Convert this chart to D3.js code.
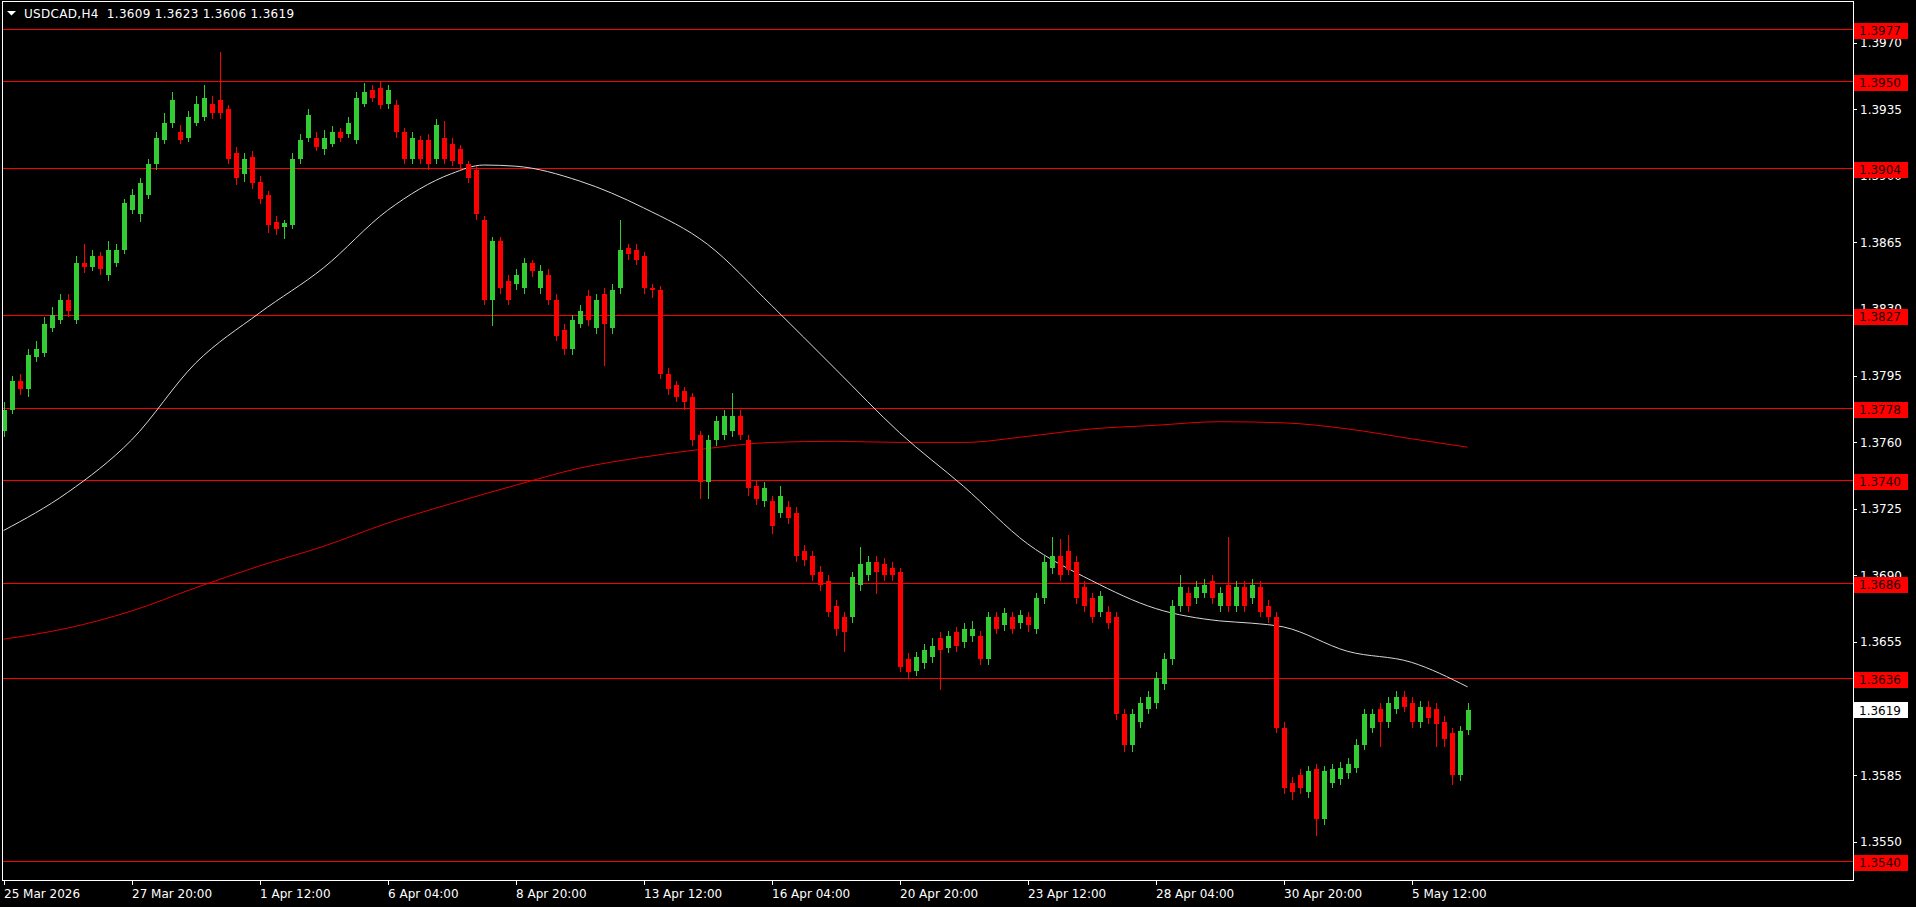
<!DOCTYPE html>
<html><head><meta charset="utf-8">
<script src="https://cdn.jsdelivr.net/npm/d3@7"></script>
<style>html,body{margin:0;padding:0;background:#000;overflow:hidden}svg{display:block}</style>
</head><body><svg id="c" width="1916" height="907"></svg>
<script>
const chartTitle = "USDCAD,H4  1.3609 1.3623 1.3606 1.3619";

const opens = [
1.3766,1.3777,1.3792,1.3788,1.3805,1.3807,1.3820,1.3824,1.3835,1.3824,
1.3854,1.3852,1.3858,1.3848,1.3854,1.3861,1.3882,1.3880,1.3890,1.3906,
1.3919,1.3928,1.3923,1.3920,1.3928,1.3931,1.3938,1.3940,1.3935,1.3912,
1.3901,1.3910,1.3897,1.3890,1.3876,1.3873,1.3874,1.3909,1.3920,1.3920,
1.3914,1.3917,1.3923,1.3922,1.3919,1.3938,1.3945,1.3946,1.3938,1.3937,
1.3923,1.3909,1.3919,1.3919,1.3909,1.3920,1.3917,1.3914,1.3906,1.3903,
1.3877,1.3835,1.3866,1.3845,1.3843,1.3841,1.3854,1.3841,1.3848,1.3835,
1.3819,1.3809,1.3822,1.3837,1.3820,1.3838,1.3820,1.3841,1.3862,1.3861,
1.3858,1.3841,1.3840,1.3796,1.3790,1.3787,1.3784,1.3764,1.3739,1.3761,
1.3764,1.3766,1.3774,1.3761,1.3737,1.3729,1.3729,1.3723,1.3726,1.3723,
1.3703,1.3700,1.3692,1.3687,1.3674,1.3668,1.3668,1.3685,1.3690,1.3697,
1.3696,1.3694,1.3692,1.3646,1.3640,1.3644,1.3647,1.3657,1.3652,1.3660,
1.3655,1.3658,1.3658,1.3646,1.3668,1.3664,1.3668,1.3665,1.3668,1.3662,
1.3678,1.3694,1.3700,1.3703,1.3697,1.3684,1.3678,1.3671,1.3671,1.3668,
1.3617,1.3601,1.3613,1.3620,1.3623,1.3633,1.3646,1.3674,1.3681,1.3678,
1.3681,1.3687,1.3674,1.3685,1.3674,1.3684,1.3678,1.3684,1.3674,1.3668,
1.3610,1.3581,1.3585,1.3576,1.3588,1.3562,1.3581,1.3583,1.3586,1.3589,
1.3601,1.3610,1.3620,1.3613,1.3620,1.3626,1.3623,1.3613,1.3621,1.3620,
1.3613,1.3607,1.3585,1.3609];
const highs = [
1.3781,1.3795,1.3796,1.3809,1.3813,1.3826,1.3831,1.3838,1.3838,1.3858,
1.3864,1.3861,1.3860,1.3866,1.3864,1.3888,1.3893,1.3899,1.3909,1.3923,
1.3933,1.3944,1.3927,1.3934,1.3942,1.3948,1.3942,1.3965,1.3937,1.3915,
1.3912,1.3913,1.3900,1.3892,1.3879,1.3877,1.3912,1.3922,1.3935,1.3923,
1.3924,1.3926,1.3925,1.3931,1.3944,1.3949,1.3948,1.3950,1.3948,1.3940,
1.3925,1.3923,1.3921,1.3922,1.3930,1.3929,1.3920,1.3916,1.3908,1.3905,
1.3879,1.3868,1.3868,1.3848,1.3851,1.3857,1.3856,1.3853,1.3851,1.3838,
1.3822,1.3827,1.3832,1.3840,1.3838,1.3841,1.3843,1.3877,1.3864,1.3864,
1.3860,1.3843,1.3842,1.3799,1.3792,1.3789,1.3786,1.3766,1.3764,1.3774,
1.3777,1.3786,1.3777,1.3764,1.3740,1.3739,1.3732,1.3737,1.3729,1.3726,
1.3706,1.3703,1.3695,1.3690,1.3677,1.3671,1.3692,1.3705,1.3700,1.3700,
1.3699,1.3697,1.3694,1.3649,1.3650,1.3654,1.3657,1.3660,1.3661,1.3663,
1.3665,1.3666,1.3661,1.3671,1.3671,1.3673,1.3671,1.3672,1.3671,1.3681,
1.3700,1.3710,1.3709,1.3711,1.3700,1.3687,1.3681,1.3682,1.3674,1.3671,
1.3620,1.3620,1.3626,1.3629,1.3639,1.3649,1.3677,1.3690,1.3684,1.3687,
1.3688,1.3690,1.3684,1.3710,1.3687,1.3687,1.3688,1.3687,1.3677,1.3671,
1.3613,1.3584,1.3588,1.3590,1.3591,1.3590,1.3591,1.3592,1.3594,1.3604,
1.3620,1.3620,1.3623,1.3626,1.3629,1.3629,1.3626,1.3624,1.3624,1.3623,
1.3616,1.3610,1.3611,1.3623];
const lows = [
1.3763,1.3775,1.3785,1.3784,1.3802,1.3805,1.3818,1.3822,1.3826,1.3822,
1.3849,1.3850,1.3848,1.3845,1.3852,1.3859,1.3880,1.3876,1.3888,1.3903,
1.3917,1.3925,1.3917,1.3918,1.3926,1.3929,1.3930,1.3930,1.3906,1.3895,
1.3897,1.3893,1.3885,1.3870,1.3869,1.3867,1.3872,1.3906,1.3918,1.3913,
1.3911,1.3915,1.3918,1.3920,1.3917,1.3936,1.3939,1.3935,1.3935,1.3920,
1.3906,1.3906,1.3906,1.3903,1.3906,1.3906,1.3905,1.3903,1.3896,1.3877,
1.3832,1.3821,1.3838,1.3832,1.3840,1.3838,1.3847,1.3838,1.3832,1.3813,
1.3806,1.3806,1.3820,1.3821,1.3817,1.3800,1.3817,1.3838,1.3856,1.3853,
1.3838,1.3836,1.3793,1.3785,1.3781,1.3777,1.3758,1.3730,1.3730,1.3758,
1.3761,1.3763,1.3761,1.3732,1.3727,1.3726,1.3712,1.3720,1.3717,1.3697,
1.3695,1.3687,1.3682,1.3668,1.3658,1.3650,1.3665,1.3682,1.3687,1.3680,
1.3687,1.3687,1.3639,1.3636,1.3637,1.3641,1.3644,1.3630,1.3649,1.3650,
1.3652,1.3655,1.3643,1.3643,1.3659,1.3661,1.3659,1.3662,1.3660,1.3659,
1.3675,1.3691,1.3687,1.3690,1.3675,1.3671,1.3665,1.3668,1.3662,1.3614,
1.3597,1.3597,1.3610,1.3617,1.3620,1.3630,1.3643,1.3671,1.3671,1.3675,
1.3678,1.3675,1.3671,1.3671,1.3671,1.3671,1.3675,1.3668,1.3665,1.3607,
1.3575,1.3572,1.3575,1.3573,1.3553,1.3559,1.3578,1.3580,1.3583,1.3586,
1.3598,1.3607,1.3600,1.3610,1.3617,1.3618,1.3610,1.3610,1.3612,1.3600,
1.3600,1.3580,1.3582,1.3606];
const closes = [
1.3777,1.3792,1.3788,1.3806,1.3809,1.3822,1.3827,1.3835,1.3829,1.3854,
1.3852,1.3858,1.3851,1.3861,1.3861,1.3886,1.3890,1.3896,1.3906,1.3920,
1.3928,1.3940,1.3919,1.3931,1.3938,1.3941,1.3933,1.3933,1.3909,1.3899,
1.3909,1.3896,1.3888,1.3874,1.3872,1.3875,1.3909,1.3919,1.3932,1.3915,
1.3920,1.3923,1.3920,1.3928,1.3941,1.3944,1.3941,1.3937,1.3945,1.3923,
1.3909,1.3920,1.3909,1.3906,1.3927,1.3909,1.3908,1.3906,1.3899,1.3880,
1.3835,1.3866,1.3841,1.3835,1.3848,1.3854,1.3850,1.3850,1.3835,1.3816,
1.3809,1.3824,1.3829,1.3824,1.3835,1.3822,1.3840,1.3861,1.3859,1.3856,
1.3841,1.3840,1.3796,1.3788,1.3784,1.3781,1.3761,1.3739,1.3761,1.3771,
1.3774,1.3774,1.3764,1.3736,1.3730,1.3736,1.3716,1.3732,1.3720,1.3700,
1.3698,1.3690,1.3685,1.3671,1.3662,1.3660,1.3689,1.3696,1.3697,1.3692,
1.3690,1.3690,1.3642,1.3639,1.3647,1.3651,1.3653,1.3651,1.3658,1.3653,
1.3662,1.3662,1.3646,1.3668,1.3662,1.3670,1.3662,1.3669,1.3664,1.3678,
1.3697,1.3700,1.3690,1.3693,1.3678,1.3674,1.3668,1.3679,1.3665,1.3617,
1.3601,1.3617,1.3623,1.3626,1.3636,1.3646,1.3674,1.3684,1.3674,1.3684,
1.3685,1.3678,1.3681,1.3674,1.3684,1.3674,1.3685,1.3671,1.3668,1.3610,
1.3578,1.3576,1.3578,1.3587,1.3562,1.3587,1.3588,1.3589,1.3591,1.3601,
1.3617,1.3617,1.3613,1.3623,1.3626,1.3621,1.3613,1.3621,1.3615,1.3612,
1.3604,1.3585,1.3608,1.3619];

// moving averages (bar index, price)
const maFastIndex  = [0,8,16,24,32,40,48,56,60,64,72,80,88,96,104,112,120,128,136,144,152,156,160,168,176,183];
const maFastValues = [1.37136,1.37336,1.37612,1.38016,1.38280,1.38517,1.38819,1.39012,1.39057,1.39051,1.38973,1.38832,1.38640,1.38319,1.37984,1.37650,1.37368,1.37066,1.36873,1.36726,1.36661,1.36649,1.36629,1.36501,1.36443,1.36314];
const maSlowIndex  = [0,8,16,24,32,40,48,56,64,72,80,88,96,104,112,120,128,136,144,152,160,168,176,183];
const maSlowValues = [1.36565,1.36623,1.36713,1.36835,1.36950,1.37053,1.37175,1.37278,1.37374,1.37464,1.37522,1.37567,1.37599,1.37605,1.37599,1.37599,1.37631,1.37670,1.37689,1.37708,1.37702,1.37670,1.37618,1.37574];

const xTickIndex  = [0,16,32,48,64,80,96,112,128,144,160,176];
const xTickLabels = ["25 Mar 2026","27 Mar 20:00","1 Apr 12:00","6 Apr 04:00","8 Apr 20:00","13 Apr 12:00","16 Apr 04:00","20 Apr 20:00","23 Apr 12:00","28 Apr 04:00","30 Apr 20:00","5 May 12:00"];
const yTickValues = [1.3970,1.3935,1.3900,1.3865,1.3830,1.3795,1.3760,1.3725,1.3690,1.3655,1.3620,1.3585,1.3550];
const levelLines  = [1.3977,1.3950,1.3904,1.3827,1.3778,1.3740,1.3686,1.3636,1.3540];
const currentPrice = 1.3619;
const priceRange = [1.35299, 1.39914];

const svg = d3.select("#c");
const W = 1916, H = 907;
const plot = {left: 3, right: 1853, top: 2, bottom: 880};
const FONT = "DejaVu Sans, sans-serif";

svg.append("rect").attr("width", W).attr("height", H).attr("fill", "#000");

const x = d3.scaleLinear().domain([0, 1]).range([3.6, 11.6]);
const y = d3.scaleLinear().domain(priceRange).range([plot.bottom, plot.top]);

svg.append("clipPath").attr("id", "pc").append("rect")
  .attr("x", plot.left).attr("y", plot.top).attr("width", plot.right - plot.left).attr("height", plot.bottom - plot.top);
const g = svg.append("g").attr("clip-path", "url(#pc)");

// level lines
g.selectAll("line.lvl").data(levelLines).join("line")
  .attr("x1", plot.left).attr("x2", plot.right)
  .attr("y1", d => Math.round(y(d)) + 0.5).attr("y2", d => Math.round(y(d)) + 0.5)
  .attr("stroke", "#ff0000").attr("stroke-width", 1).attr("shape-rendering", "crispEdges");

// moving averages
const lineGen = d3.line().x(d => x(d[0])).y(d => y(d[1])).curve(d3.curveMonotoneX);
g.append("path").datum(maSlowIndex.map((v, i) => [v, maSlowValues[i]]))
  .attr("d", lineGen).attr("fill", "none").attr("stroke", "#e00000").attr("stroke-width", 1);
g.append("path").datum(maFastIndex.map((v, i) => [v, maFastValues[i]]))
  .attr("d", lineGen).attr("fill", "none").attr("stroke", "#d8d8d8").attr("stroke-width", 1);

// candles
const bars = opens.map((o, i) => ({i, o, h: highs[i], l: lows[i], c: closes[i]}));
const UP = "#32cd32", DN = "#ff0000";
const cg = g.append("g").attr("shape-rendering", "crispEdges");
cg.selectAll("line").data(bars).join("line")
  .attr("x1", d => Math.round(x(d.i)) + 0.5).attr("x2", d => Math.round(x(d.i)) + 0.5)
  .attr("y1", d => y(d.h)).attr("y2", d => y(d.l))
  .attr("stroke", d => d.c >= d.o ? UP : DN).attr("stroke-width", 1);
cg.selectAll("rect").data(bars).join("rect")
  .attr("x", d => Math.round(x(d.i)) - 2).attr("width", 5)
  .attr("y", d => y(Math.max(d.o, d.c)))
  .attr("height", d => Math.max(1, y(Math.min(d.o, d.c)) - y(Math.max(d.o, d.c))))
  .attr("fill", d => d.c >= d.o ? UP : DN);

// frame
svg.append("rect").attr("x", plot.left - 0.5).attr("y", plot.top - 0.5)
  .attr("width", plot.right - plot.left + 0.5).attr("height", plot.bottom - plot.top + 0.5)
  .attr("fill", "none").attr("stroke", "#fff").attr("stroke-width", 1).attr("shape-rendering", "crispEdges");

// y ticks
const yt = svg.append("g");
yt.selectAll("line").data(yTickValues).join("line")
  .attr("x1", plot.right).attr("x2", plot.right + 4)
  .attr("y1", d => Math.round(y(d)) + 0.5).attr("y2", d => Math.round(y(d)) + 0.5)
  .attr("stroke", "#fff").attr("shape-rendering", "crispEdges");
yt.selectAll("text").data(yTickValues).join("text")
  .attr("x", 1860).attr("y", d => y(d) + 4.4)
  .attr("fill", "#fff").attr("font-family", FONT).attr("font-size", 12)
  .text(d => d.toFixed(4));

// level labels
const lg = svg.append("g");
lg.selectAll("rect").data(levelLines).join("rect")
  .attr("x", 1853.5).attr("width", 54).attr("y", d => Math.round(y(d)) - 6).attr("height", 16)
  .attr("fill", "#ff0000").attr("shape-rendering", "crispEdges");
lg.selectAll("text").data(levelLines).join("text")
  .attr("x", 1859).attr("y", d => Math.round(y(d)) + 6.4)
  .attr("fill", "#1a0000").attr("font-family", FONT).attr("font-size", 12)
  .text(d => d.toFixed(4));

// current price label
svg.append("rect").attr("x", 1853.5).attr("width", 54).attr("y", Math.round(y(currentPrice)) - 8).attr("height", 16)
  .attr("fill", "#fff").attr("shape-rendering", "crispEdges");
svg.append("text").attr("x", 1859).attr("y", Math.round(y(currentPrice)) + 4.6)
  .attr("fill", "#000").attr("font-family", FONT).attr("font-size", 12)
  .text(currentPrice.toFixed(4));

// x ticks
const xt = svg.append("g");
xt.selectAll("line").data(xTickIndex).join("line")
  .attr("x1", d => Math.round(x(d)) + 0.5).attr("x2", d => Math.round(x(d)) + 0.5)
  .attr("y1", plot.bottom).attr("y2", plot.bottom + 5)
  .attr("stroke", "#fff").attr("shape-rendering", "crispEdges");
xt.selectAll("text").data(xTickIndex).join("text")
  .attr("x", d => Math.round(x(d)))
  .attr("y", 898)
  .attr("fill", "#fff").attr("font-family", FONT).attr("font-size", 12)
  .text((d, i) => xTickLabels[i]);

// title
svg.append("path").attr("d", "M7,11 L16,11 L11.5,15.5 Z").attr("fill", "#fff");
svg.append("text").attr("x", 24).attr("y", 17.7)
  .attr("fill", "#fff").attr("font-family", FONT).attr("font-size", 12)
  .attr("letter-spacing", "0.3px").style("white-space", "pre")
  .text(chartTitle);
</script>
</body></html>
